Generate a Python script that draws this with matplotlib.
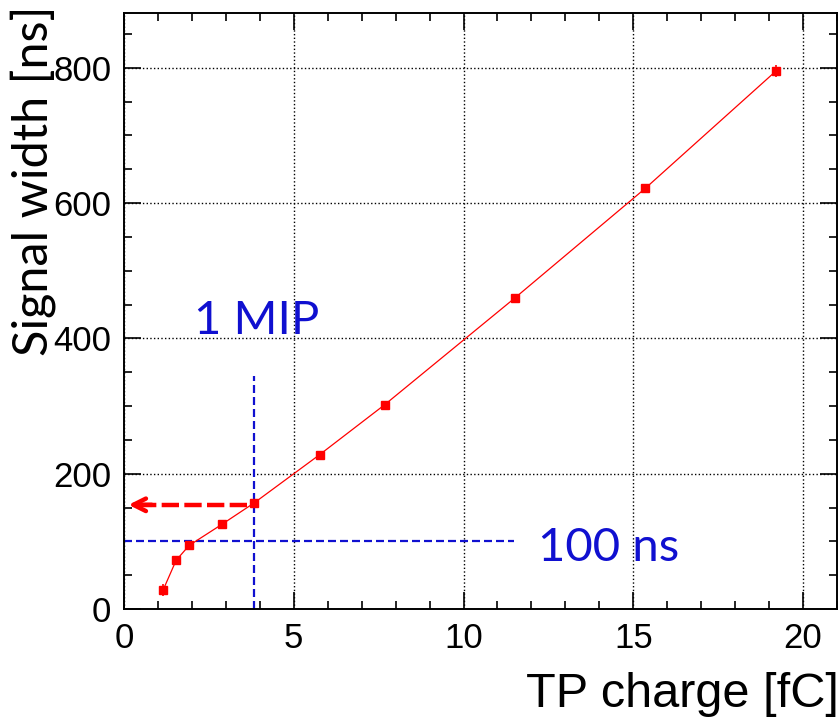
import numpy as np
import matplotlib.pyplot as plt
from matplotlib.ticker import MultipleLocator

# Dados: largura do sinal em funcao da carga injetada (test pulse)
carga = [1.152, 1.536, 1.92, 2.88, 3.84, 5.76, 7.68, 11.52, 15.36, 19.2]
largura = [28, 72, 94, 125, 157, 228, 302, 460, 622, 795]
erro = [9, 6, 5, 5, 5, 5, 5, 5, 6, 9]

# Marcacoes
mip_carga = 3.84
mip_largura = 154
limite_ns = 100

fig = plt.figure(figsize=(8.4, 7.18), dpi=100)
ax = fig.add_axes([0.1476, 0.1518, 0.8488, 0.8302])

ax.plot(carga, largura, color='red', lw=0.9, zorder=3)
ax.errorbar(carga, largura, yerr=erro, fmt='s', color='red', ms=6, elinewidth=1.2, capsize=0, zorder=4)

# Linhas do 1 MIP e 100 ns
ax.plot([mip_carga, mip_carga], [0, 345], color='#1010d0', ls=(0, (3.6, 1.8)), lw=1.6, zorder=2)
ax.plot([0, 11.5], [limite_ns, limite_ns], color='#1010d0', ls=(0, (3.6, 1.8)), lw=1.6, zorder=2)
ax.plot([0.45, mip_carga], [mip_largura, mip_largura], color='red', ls=(0, (3.9, 1.2)), lw=3.2, zorder=2)
ax.annotate('', xy=(0.05, mip_largura), xytext=(0.9, mip_largura),
            arrowprops=dict(arrowstyle='->,head_length=0.9,head_width=0.45', color='red', lw=3.2))

ax.text(3.9, 426, '1 MIP', color='#1010d0', fontsize=34, family='Lato', ha='center', va='center')
ax.text(12.2, 90, '100 ns', color='#1010d0', fontsize=34, family='Lato', ha='left', va='center')

ax.set_xlim(0, 21)
ax.set_ylim(0, 881)
ax.xaxis.set_major_locator(MultipleLocator(5))
ax.xaxis.set_minor_locator(MultipleLocator(1))
ax.yaxis.set_major_locator(MultipleLocator(200))
ax.yaxis.set_minor_locator(MultipleLocator(50))
ax.tick_params(which='both', direction='in', top=True, right=True, width=1.2,
               labelsize=25, labelfontfamily='Liberation Sans')
ax.tick_params(which='major', length=12)
ax.tick_params(which='minor', length=6)
ax.tick_params(axis='x', pad=9)
ax.tick_params(axis='y', pad=9)
for s in ax.spines.values():
    s.set_linewidth(1.4)
ax.grid(True, which='major', color='black', ls=':', lw=1.0)

ax.set_xlabel('TP charge [fC]', fontsize=35, family='Liberation Sans', ha='right')
ax.xaxis.set_label_coords(1.002, -0.105)
ax.set_ylabel('Signal width [ns]', fontsize=35, family='Lato', ha='right')
ax.yaxis.set_label_coords(-0.096, 1.012)

plt.savefig('out.png', dpi=100)
